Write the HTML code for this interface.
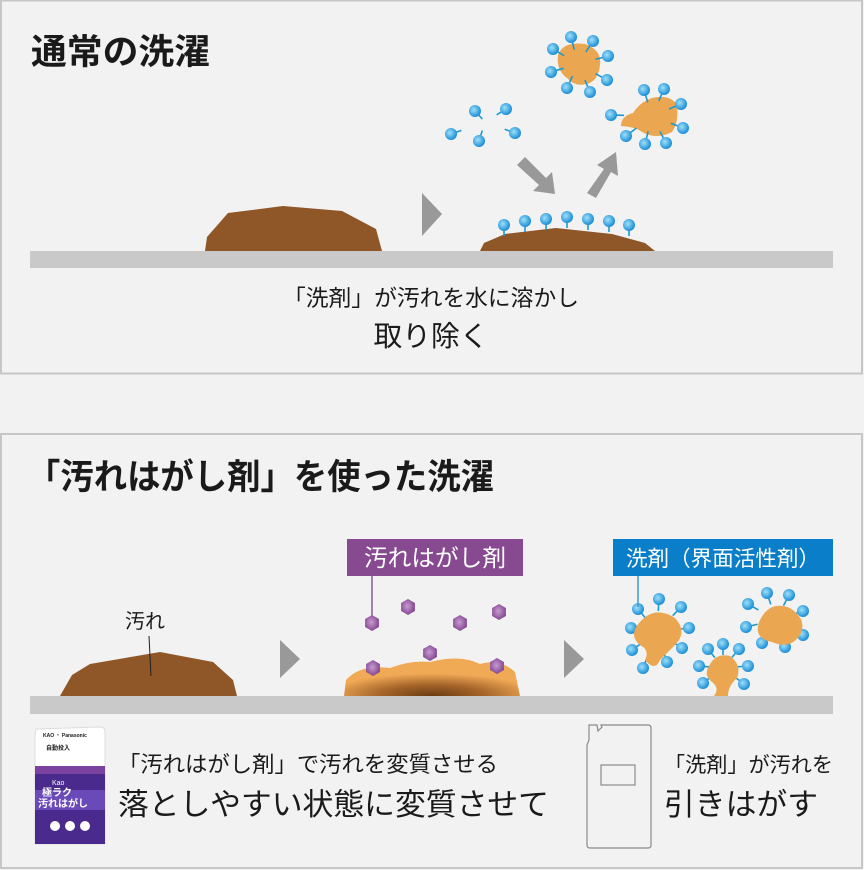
<!DOCTYPE html>
<html><head><meta charset="utf-8"><style>
html,body{margin:0;padding:0;background:#f2f2f2;}
svg{display:block;}
text{font-family:"Liberation Sans","Noto Sans CJK JP",sans-serif;fill:#1a1a1a;}
</style></head><body>
<svg width="864" height="870" viewBox="0 0 864 870" xmlns="http://www.w3.org/2000/svg">
<defs>
<radialGradient id="bl" cx="0.4" cy="0.4" r="0.6"><stop offset="0" stop-color="#9fe0fa"/><stop offset="1" stop-color="#1b8ed6"/></radialGradient>
<radialGradient id="pu" cx="0.45" cy="0.45" r="0.6"><stop offset="0" stop-color="#c79bd0"/><stop offset="1" stop-color="#7e3f8c"/></radialGradient>
<radialGradient id="dk" cx="0.5" cy="1" r="0.6"><stop offset="0" stop-color="#6b3a12"/><stop offset="0.5" stop-color="#a5652a"/><stop offset="1" stop-color="#f0a955"/></radialGradient>
</defs>
<rect x="0" y="0" width="864" height="870" fill="#f2f2f2"/>
<rect x="1" y="0.5" width="861" height="373" fill="#f2f2f2" stroke="#c6c6c6" stroke-width="2"/>
<rect x="1" y="434" width="861" height="434" fill="#f2f2f2" stroke="#c6c6c6" stroke-width="2"/>

<text x="31" y="64" font-size="35" font-weight="bold" textLength="179" lengthAdjust="spacingAndGlyphs">通常の洗濯</text>
<rect x="30" y="251" width="803" height="17" fill="#c9c9c9"/>
<polygon points="205,251 207,237 228,213 283,206 342,211 376,229 382,251" fill="#8f5627"/>
<polygon points="422,193 442,214 422,236" fill="#999"/>
<polygon points="480,251 484,243 505,234 556,228 612,234 645,243 655,251" fill="#8f5627"/>
<g fill="#999">
<polygon points="517,165 525,157 546,178 552,172 555,194 533,191 539,185"/>
<polygon points="587,193 596,198 611,172 618,176 616,152 597,165 604,169"/>
</g>
<g id="mols" stroke="#1a9ad0" stroke-width="1.6"></g>

<text x="431" y="306" font-size="22.5" text-anchor="middle" textLength="296" lengthAdjust="spacingAndGlyphs">「洗剤」が汚れを水に溶かし</text>
<text x="431" y="346" font-size="28.5" text-anchor="middle" textLength="115" lengthAdjust="spacingAndGlyphs">取り除く</text>

<text x="27" y="489" font-size="35" font-weight="bold" textLength="467" lengthAdjust="spacingAndGlyphs">「汚れはがし剤」を使った洗濯</text>
<rect x="30" y="696" width="803" height="18" fill="#c9c9c9"/>
<polygon points="60,696 72,675 90,664 160,652 213,662 233,680 237,696" fill="#8f5627"/>
<line x1="149" y1="636" x2="151" y2="676" stroke="#222" stroke-width="1"/>
<text x="125" y="628" font-size="20">汚れ</text>
<polygon points="280,640 300,659 280,678" fill="#999"/>
<polygon points="564,640 584,659 564,678" fill="#999"/>
<path d="M344,696 L346,680 Q360,664 390,668 Q410,660 430,662 Q460,654 480,664 Q500,658 515,672 L520,696 Z" fill="url(#dk)"/>
<rect x="347" y="539" width="176" height="37" fill="#874a90"/>
<text x="435" y="566" font-size="23.5" text-anchor="middle" style="fill:#fff" textLength="142" lengthAdjust="spacingAndGlyphs">汚れはがし剤</text>
<line x1="372" y1="576" x2="372" y2="620" stroke="#8a5a95" stroke-width="1.5"/>
<g id="hex"></g>
<rect x="613" y="539" width="220" height="37" fill="#0a7ec9"/>
<text x="723" y="566" font-size="21.5" text-anchor="middle" style="fill:#fff" textLength="194" lengthAdjust="spacingAndGlyphs">洗剤（界面活性剤）</text>
<line x1="638" y1="576" x2="638" y2="607" stroke="#3c9ad0" stroke-width="1.5"/>
<path d="M640,622 Q655,605 675,618 Q688,632 675,645 Q665,655 660,660 Q655,672 645,660 Q650,650 640,645 Q628,635 640,622Z" fill="#eaa651"/>
<path d="M760,620 Q770,600 790,608 Q808,620 800,635 Q790,650 772,642 Q752,638 760,620Z" fill="#eaa651"/>
<path d="M708,668 Q715,652 730,656 Q742,665 737,678 Q728,686 728,696 L714,696 Q720,688 712,682 Q704,676 708,668Z" fill="#eaa651"/>

<g>
<path d="M36,729 L100,727 Q105,727 105,732 L105,844 L35,844 L35,736 Z" fill="#fff" stroke="#ddd"/>
<rect x="35" y="766" width="70" height="8" fill="#7b43a0"/>
<rect x="35" y="774" width="70" height="70" fill="#4a2a8c"/>
<rect x="35" y="790" width="70" height="20" fill="#6a4ab8"/>
<text x="43" y="737" font-size="5" font-weight="bold">KAO ・ Panasonic</text>
<text x="46" y="750" font-size="6" font-weight="bold">自動投入</text>
<text x="52" y="785" font-size="7" style="fill:#fff">Kao</text>
<text x="42" y="796" font-size="10" font-weight="bold" style="fill:#fff">極ラク</text>
<text x="38" y="807" font-size="10" font-weight="bold" style="fill:#fff">汚れはがし</text>
<circle cx="55" cy="826" r="5" fill="#fff"/><circle cx="70" cy="826" r="5" fill="#fff"/><circle cx="85" cy="826" r="5" fill="#fff"/>
</g>
<text x="118" y="772" font-size="22.3" textLength="380" lengthAdjust="spacingAndGlyphs">「汚れはがし剤」で汚れを変質させる</text>
<text x="118" y="815" font-size="30.5" textLength="431" lengthAdjust="spacingAndGlyphs">落としやすい状態に変質させて</text>

<path d="M589,725 L597,725 L598,731 L602,727 L601,725 L648,725 Q651,725 651,728 L651,845 Q651,848 648,848 L590,848 Q587,848 587,845 L587,745 L589,740 Z" fill="none" stroke="#8a8a8a" stroke-width="1.2"/>
<rect x="601" y="765" width="34" height="20" fill="none" stroke="#8a8a8a" stroke-width="1.2"/>
<text x="664" y="772" font-size="21" textLength="169" lengthAdjust="spacingAndGlyphs">「洗剤」が汚れを</text>
<text x="664" y="815" font-size="30.5" textLength="154" lengthAdjust="spacingAndGlyphs">引きはがす</text>
</svg>
<script>
var NS="http://www.w3.org/2000/svg";
var g=document.getElementById("mols");
function mol(cx,cy,tx,ty,len){
 var dx=tx-cx,dy=ty-cy,d=Math.sqrt(dx*dx+dy*dy);
 var L=len||11;
 var l=document.createElementNS(NS,"line");
 l.setAttribute("x1",cx);l.setAttribute("y1",cy);
 l.setAttribute("x2",cx+dx/d*L);l.setAttribute("y2",cy+dy/d*L);
 g.appendChild(l);
 var c=document.createElementNS(NS,"circle");
 c.setAttribute("cx",cx);c.setAttribute("cy",cy);c.setAttribute("r",6);
 c.setAttribute("fill","url(#bl)");c.setAttribute("stroke","none");
 g.appendChild(c);
}
function blob(path){var p=document.createElementNS(NS,"path");p.setAttribute("d",path);p.setAttribute("fill","#eaa651");p.setAttribute("stroke","none");g.appendChild(p);}
blob("M558,55 Q563,41 585,44 Q602,50 600,65 Q598,82 586,84 Q575,87 567,78 Q556,70 558,55Z");
blob("M633,113 Q640,102 652,98 Q670,94 677,105 Q679,122 672,132 Q656,140 642,132 Q636,127 621,126 Q621,116 633,113Z");
[[451,134],[475,111],[506,109],[515,133],[479,141]].forEach(function(p){mol(p[0],p[1],485,122,11);});
[[571,37],[593,41],[608,56],[607,80],[590,92],[567,88],[551,72],[553,49]].forEach(function(p){mol(p[0],p[1],578,64,13);});
[[611,115],[626,136],[645,144],[666,143],[683,128],[681,104],[664,89],[644,90]].forEach(function(p){mol(p[0],p[1],652,116,13);});
[[504,225],[525,221],[546,219],[567,217],[588,219],[609,221],[629,225]].forEach(function(p){mol(p[0],p[1],p[0],p[1]+20,11);});
[[638,609],[659,599],[681,607],[689,628],[682,648],[667,662],[643,668],[632,650],[631,628]].forEach(function(p){mol(p[0],p[1],657,632,12);});
[[748,604],[767,593],[789,595],[803,611],[803,635],[785,647],[762,643],[746,627]].forEach(function(p){mol(p[0],p[1],776,620,12);});
[[708,649],[723,644],[739,649],[748,666],[744,684],[703,683],[699,666]].forEach(function(p){mol(p[0],p[1],723,668,11);});
var h=document.getElementById("hex");
[[372,623],[408,607],[460,623],[499,612],[373,668],[430,653],[497,666]].forEach(function(p){
 var pts=[];for(var i=0;i<6;i++){var a=Math.PI/3*i+Math.PI/6;pts.push((p[0]+8*Math.cos(a)).toFixed(1)+","+(p[1]+8*Math.sin(a)).toFixed(1));}
 var e=document.createElementNS(NS,"polygon");e.setAttribute("points",pts.join(" "));e.setAttribute("fill","url(#pu)");h.appendChild(e);
});
</script>
</body></html>
